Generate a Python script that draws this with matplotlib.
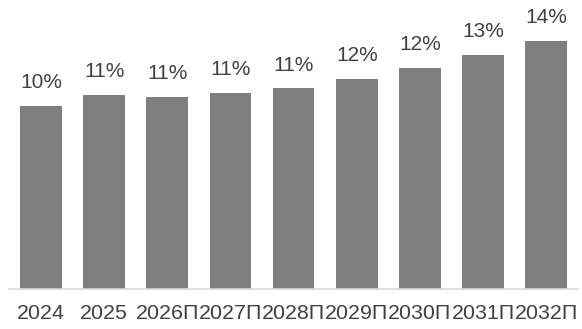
import matplotlib.pyplot as plt

years = ["2024", "2025", "2026П", "2027П", "2028П", "2029П", "2030П", "2031П", "2032П"]
shares = [10.2, 10.8, 10.7, 10.9, 11.15, 11.7, 12.3, 13.0, 13.8]
labels = ["10%", "11%", "11%", "11%", "11%", "12%", "12%", "13%", "14%"]

plt.rcParams["font.family"] = ["Liberation Sans", "DejaVu Sans"]

fig = plt.figure(figsize=(5.82, 3.29), dpi=100)
ax = fig.add_axes([0.016, 0.1216, 0.977, 0.878])

x = range(len(years))
bars = ax.bar(x, shares, width=0.66, color="#7f7f7f", zorder=2)

for b, lab in zip(bars, labels):
    ax.annotate(lab, (b.get_x() + b.get_width() / 2, b.get_height()),
                xytext=(0, 10), textcoords="offset points",
                ha="center", va="bottom", fontsize=15, color="#404040")

ax.set_xlim(-0.5, len(years) - 0.5)
ax.set_ylim(0, 16.06)
ax.set_xticks(list(x))
ax.set_xticklabels(years, fontsize=15.4, color="#404040")
ax.tick_params(axis="x", length=0, pad=11)
ax.set_yticks([])

for side in ["left", "right", "top"]:
    ax.spines[side].set_visible(False)
ax.spines["bottom"].set_color("#d9d9d9")
ax.spines["bottom"].set_linewidth(1.2)

fig.savefig("out.png", dpi=100)
